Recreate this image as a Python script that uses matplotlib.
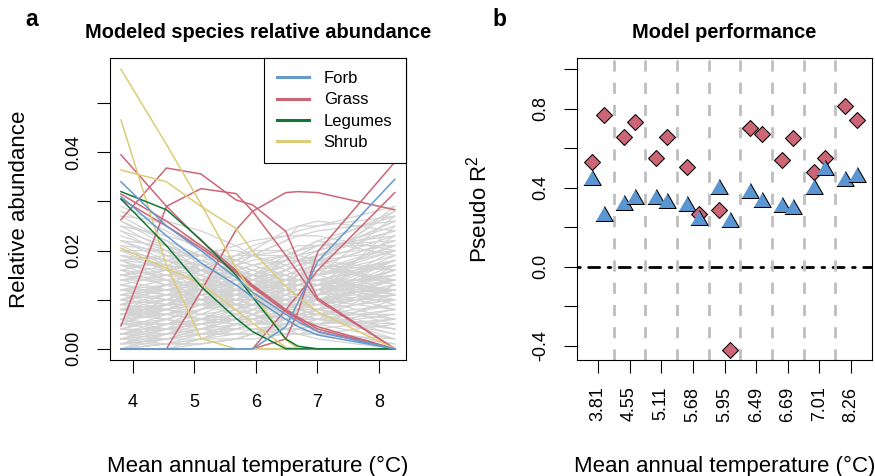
import matplotlib
matplotlib.use("Agg")
import matplotlib.pyplot as plt
import numpy as np
from matplotlib.axes import Axes
from matplotlib.lines import Line2D

plt.rcParams['font.family'] = ['Liberation Sans', 'DejaVu Sans']
plt.rcParams['mathtext.fontset'] = 'custom'
plt.rcParams['mathtext.rm'] = 'Liberation Sans'
plt.rcParams['mathtext.it'] = 'Liberation Sans:italic'

# mean annual temperature of the sites
temps = [3.81, 4.55, 5.11, 5.68, 5.95, 6.49, 6.69, 7.01, 8.26]
temp_labels = ["3.81", "4.55", "5.11", "5.68", "5.95", "6.49", "6.69", "7.01", "8.26"]

# modeled relative abundance (x 1000), one row per species
forb = [
    [34, 25, 20, 14.5, 11.5, 7, 5.5, 3.5, 0],
    [31, 23, 17.5, 13, 10.5, 6, 4.5, 2.8, 0],
    [0, 0, 0, 0, 0, 4.5, 9.5, 17.8, 34.5],
]
grass = [
    [39.5, 29, 22, 16, 13, 8, 6.5, 4, 0],
    [30.5, 25, 20.5, 15.5, 12.5, 7.5, 6, 3.5, 0],
    [31.5, 26, 21, 15.8, 12.8, 7.8, 6.2, 4.5, 0],
    [26.3, 36.8, 35.6, 30.3, 29.3, 23.9, 18, 10.3, 0],
    [4.6, 29, 32.6, 31.6, 28, 19, 15.5, 9.9, 0],
    [0, 0, 11.7, 24.2, 28, 31.8, 32, 31.8, 28.3],
    [0, 0, 0, 0, 0, 2, 7.6, 19.8, 38],
    [0, 0, 0, 0, 0, 8, 11, 16, 31.8],
]
legumes = [
    [32, 28.3, 22.2, 15, 10.5, 2, 0.5, 0, 0],
    [30.5, 21, 12.7, 6.2, 3.5, 0, 0, 0, 0],
]
shrub = [
    [56.9, 41.6, 29.5, 16.5, 11.5, 1.8, 0, 0, 0],
    [46.6, 17, 2.1, 0, 0, 0, 0, 0, 0],
    [36.4, 34, 29, 24.5, 19.8, 12.7, 10.5, 7.5, 0],
    [20.5, 16.4, 13.3, 7.9, 5.2, 0.3, 0, 0, 0],
]
other = [
    [20, 18, 15, 12, 11, 9, 8, 7, 4],
    [15, 16, 17, 16, 15, 14, 14, 13, 12],
    [0, 3, 6, 9, 11, 14, 15, 17, 22],
    [25, 20, 14, 9, 7, 4, 3, 2, 0],
    [10, 12, 13, 15, 16, 18, 19, 20, 25],
    [5, 8, 11, 14, 15, 17, 18, 18, 16],
    [18, 14, 10, 8, 7, 6, 6, 6, 8],
    [12, 10, 9, 10, 11, 13, 14, 15, 19],
    [0, 0, 2, 5, 7, 11, 13, 15, 27],
    [28, 24, 20, 16, 14, 11, 10, 9, 5],
    [8, 7, 6, 6, 6, 7, 8, 9, 14],
    [22, 19, 17, 14, 13, 11, 10, 10, 10],
    [3, 6, 9, 12, 14, 16, 17, 18, 20],
    [14, 15, 16, 16, 15, 12, 11, 10, 6],
    [6, 10, 13, 17, 19, 22, 23, 24, 26],
    [17, 17, 16, 14, 13, 10, 9, 8, 4],
    [1, 2, 4, 6, 8, 12, 14, 17, 29],
    [11, 9, 7, 6, 5, 5, 5, 6, 9],
    [24, 21, 18, 15, 14, 12, 11, 11, 12],
    [4, 4, 5, 7, 8, 10, 11, 12, 18],
    [9, 13, 16, 19, 20, 20, 19, 18, 13],
    [19, 16, 13, 11, 10, 9, 9, 9, 11],
    [2, 5, 7, 10, 11, 13, 14, 15, 17],
    [13, 11, 9, 7, 6, 4, 4, 3, 1],
    [7, 9, 12, 14, 15, 18, 19, 21, 28],
    [16, 18, 20, 20, 19, 17, 16, 15, 11],
    [0, 1, 3, 5, 6, 9, 10, 12, 20],
    [21, 17, 13, 10, 9, 7, 6, 6, 5],
    [10, 11, 11, 12, 13, 15, 16, 17, 22],
    [5, 6, 8, 10, 12, 16, 18, 20, 24],
    [26, 22, 19, 15, 13, 10, 8, 7, 2],
    [12, 14, 15, 17, 18, 19, 20, 21, 23],
    [8, 8, 9, 10, 10, 11, 11, 12, 15],
    [15, 13, 12, 11, 11, 12, 13, 14, 18],
    [3, 3, 4, 4, 5, 6, 7, 8, 12],
    [20, 20, 19, 17, 16, 14, 13, 12, 8],
    [1, 4, 8, 12, 14, 18, 20, 22, 19],
    [18, 15, 11, 8, 7, 5, 5, 5, 6],
    [9, 8, 7, 8, 9, 12, 13, 15, 21],
    [6, 7, 9, 11, 12, 14, 15, 16, 14],
    [23, 20, 16, 13, 12, 9, 8, 7, 3],
    [14, 12, 10, 9, 9, 10, 11, 12, 16],
    [0, 0, 1, 2, 3, 6, 8, 11, 25],
    [11, 13, 14, 15, 15, 15, 14, 14, 11],
    [17, 14, 12, 10, 9, 8, 8, 8, 10],
    [4, 7, 10, 13, 14, 17, 18, 19, 21],
    [27, 22, 17, 13, 11, 8, 7, 6, 4],
    [7, 6, 5, 4, 4, 4, 4, 5, 7],
    [13, 15, 17, 18, 19, 20, 21, 21, 22],
    [2, 3, 4, 6, 7, 10, 11, 13, 23],
    [19, 18, 17, 15, 14, 12, 11, 11, 12],
    [10, 9, 9, 9, 9, 9, 9, 10, 13],
    [16, 13, 10, 7, 6, 4, 3, 3, 2],
    [5, 9, 13, 16, 17, 18, 18, 17, 13],
    [8, 10, 12, 13, 14, 16, 17, 19, 26],
    [22, 18, 15, 12, 11, 10, 10, 11, 15],
    [12, 12, 11, 11, 10, 9, 9, 8, 6],
    [1, 2, 3, 4, 5, 7, 8, 10, 16],
    [15, 17, 19, 21, 22, 23, 23, 23, 20],
    [6, 5, 5, 6, 7, 9, 10, 12, 19],
    [20, 16, 12, 9, 8, 6, 5, 4, 1],
    [9, 11, 12, 14, 15, 17, 18, 19, 24],
    [3, 5, 6, 8, 9, 11, 12, 13, 15],
    [18, 19, 19, 18, 17, 15, 14, 13, 9],
    [11, 10, 10, 11, 12, 14, 15, 16, 20],
    [0, 2, 4, 7, 9, 13, 15, 18, 28],
    [24, 19, 15, 12, 10, 8, 7, 7, 7],
    [7, 8, 10, 11, 12, 13, 13, 13, 12],
    [14, 14, 13, 13, 13, 14, 15, 16, 21],
    [2, 1, 1, 2, 2, 3, 4, 5, 10],
    [8, 11, 14, 18, 20, 24, 25, 25, 27],
    [5, 9, 13, 17, 19, 22, 25, 26, 24],
    [10, 13, 16, 19, 21, 23, 24, 25, 29],
    [0, 0, 0, 0, 0, 0, 0, 0, 0],
    [4, 3, 3, 3, 4, 5, 6, 7, 11],
    [1, 1, 2, 3, 3, 5, 6, 7, 9],
    [6, 4, 3, 3, 3, 4, 4, 5, 8],
    [29, 25, 21, 17, 15, 12, 11, 10, 8],
    [27, 26, 24, 21, 19, 16, 15, 14, 11],
    [3, 2, 2, 2, 3, 4, 5, 6, 13],
    [12, 13, 13, 14, 14, 14, 14, 14, 14],
    [9, 7, 6, 5, 5, 6, 7, 8, 12],
    [16, 15, 14, 13, 13, 13, 13, 14, 17],
    [2, 4, 6, 9, 10, 12, 13, 14, 12],
    [7, 9, 11, 12, 13, 14, 15, 15, 18],
    [21, 20, 18, 16, 15, 13, 12, 12, 14],
    [5, 5, 6, 7, 8, 9, 10, 11, 17],
    [0, 1, 2, 4, 5, 8, 9, 11, 18],
    [18, 17, 16, 15, 14, 13, 13, 13, 15],
    [10, 8, 6, 5, 4, 3, 3, 3, 5],
    [13, 12, 12, 12, 12, 13, 14, 15, 20],
    [4, 6, 8, 11, 13, 15, 16, 17, 16],
    [25, 23, 21, 18, 17, 15, 14, 13, 10],
    [8, 9, 10, 12, 13, 16, 17, 18, 23],
    [11, 12, 13, 13, 13, 12, 12, 12, 12],
    [2, 2, 3, 5, 6, 8, 9, 10, 14],
    [15, 14, 13, 12, 11, 10, 10, 10, 13],
    [6, 8, 10, 13, 15, 19, 20, 22, 27],
    [19, 17, 14, 11, 10, 8, 7, 6, 3],
    [3, 4, 5, 6, 6, 7, 7, 8, 10],
    [14, 16, 18, 19, 19, 19, 18, 17, 14],
    [1, 3, 5, 8, 10, 14, 16, 19, 26],
    [22, 21, 19, 17, 16, 14, 14, 14, 17],
    [9, 10, 10, 10, 10, 10, 10, 11, 14],
    [5, 4, 4, 5, 6, 8, 9, 11, 16],
    [17, 16, 14, 12, 11, 9, 9, 9, 12],
    [12, 11, 10, 10, 10, 11, 12, 13, 18],
    [0, 1, 1, 2, 3, 5, 6, 8, 17],
    [7, 7, 8, 9, 9, 10, 10, 10, 11],
    [26, 21, 16, 12, 10, 7, 6, 5, 2],
    [10, 12, 14, 16, 17, 19, 20, 21, 21],
    [3, 5, 8, 11, 12, 14, 14, 14, 11],
    [20, 18, 16, 13, 12, 10, 10, 10, 12],
    [8, 6, 4, 3, 3, 3, 3, 4, 6],
]

# pseudo R2, two plots per temperature (left, right)
r2_diamond = [
    [0.533, 0.768], [0.658, 0.733], [0.553, 0.655], [0.503, 0.266], [0.286, -0.418],
    [0.702, 0.675], [0.540, 0.652], [0.482, 0.550], [0.814, 0.743],
]
r2_triangle = [
    [0.440, 0.260], [0.313, 0.342], [0.342, 0.322], [0.310, 0.237], [0.394, 0.225],
    [0.374, 0.327], [0.305, 0.293], [0.394, 0.491], [0.437, 0.457],
]

colors = {"Forb": "#6699CC", "Grass": "#CC6677", "Legumes": "#117733", "Shrub": "#DDCC77"}

W, H = 875, 476
fig = plt.figure(figsize=(W / 100, H / 100), dpi=100)

def px_axes(x0, x1, y0, y1):
    return fig.add_axes([x0 / W, 1 - y1 / H, (x1 - x0) / W, (y1 - y0) / H])

def style(ax: Axes):
    for s in ax.spines.values():
        s.set_linewidth(0.8)
    ax.tick_params(direction="out", length=9.6, width=0.8, labelsize=13)

def abundance_graph(ax: Axes):
    style(ax)
    x = np.array(temps)
    for row in other:
        ax.plot(x, np.array(row) / 1000, color="#D3D3D3", lw=0.9)
    for name, group in [("Grass", grass), ("Shrub", shrub), ("Legumes", legumes), ("Forb", forb)]:
        for row in group:
            ax.plot(x, np.array(row) / 1000, color=colors[name], lw=1.1)

    ax.set_xlim(3.632, 8.438)
    ax.set_ylim(-0.00228, 0.0592)
    ax.set_xticks([4, 5, 6, 7, 8])
    ax.set_yticks(np.arange(6) / 100)
    ax.set_yticklabels(["0.00", "", "0.02", "", "0.04", ""])
    ax.tick_params(axis="x", pad=15)
    ax.tick_params(axis="y", pad=10.5)
    for t in ax.get_yticklabels():
        t.set_rotation(90)
        t.set_va("center")

    handles = [Line2D([], [], color=c, lw=2.2) for c in colors.values()]
    leg = ax.legend(handles, list(colors.keys()), loc="upper right", borderaxespad=0,
                    fancybox=False, framealpha=1, edgecolor="black", fontsize=12,
                    handlelength=1.9, handletextpad=0.9, borderpad=0.8, labelspacing=0.37)
    leg.get_frame().set_linewidth(0.8)

def performance_graph(ax: Axes):
    style(ax)
    idx = np.arange(1, len(temps) + 1)
    for v in idx[:-1] + 0.5:
        ax.axvline(v, color="#BEBEBE", lw=2, ls=(0, (4, 4)), zorder=2)
    ax.axhline(0, color="black", lw=2, ls=(0, (1, 3, 4, 3)), dash_capstyle="round", zorder=1)

    tri = [(-1, -0.577), (1, -0.577), (0, 1.155)]
    d = np.array(r2_diamond)
    t = np.array(r2_triangle)
    for k, off in enumerate([-0.18, 0.18]):
        ax.plot(idx + off, d[:, k], ls="none", marker="D", ms=8.0, mfc="#CC6677",
                mec="black", mew=0.75, zorder=3)
        ax.plot(idx + off, t[:, k], ls="none", marker=tri, ms=14.4, mfc="#5A96D2",
                mec="black", mew=0.75, zorder=3)

    ax.set_xlim(0.33, 9.67)
    ax.set_ylim(-0.471, 1.057)
    ax.set_xticks(idx)
    ax.set_xticklabels(temp_labels, rotation=90, va="top", ha="center")
    yt = [-0.4, -0.2, 0.0, 0.2, 0.4, 0.6, 0.8, 1.0]
    ax.set_yticks(yt)
    ax.set_yticklabels(["-0.4", "", "0.0", "", "0.4", "", "0.8", ""])
    ax.tick_params(axis="x", pad=9.5)
    ax.tick_params(axis="y", pad=10.5)
    for lbl in ax.get_yticklabels():
        lbl.set_rotation(90)
        lbl.set_va("center")

ax_a = px_axes(110, 405.7, 58, 360)
ax_b = px_axes(576.7, 872.3, 58, 360)
abundance_graph(ax_a)
performance_graph(ax_b)

def ftext(x, y, s, **kw):
    fig.text(x / W, 1 - y / H, s, ha="center", va="center", **kw)

ftext(31.7, 19, "a", fontsize=16.5, fontweight="bold")
ftext(499.3, 19, "b", fontsize=16.5, fontweight="bold")
ftext(257.9, 33, "Modeled species relative abundance", fontsize=14.4, fontweight="bold")
ftext(724.5, 33, "Model performance", fontsize=14.4, fontweight="bold")
ftext(20, 209, "Relative abundance", fontsize=16, rotation=90)
ftext(479, 209, "Pseudo R$^2$", fontsize=16, rotation=90)
ftext(257.9, 466, "Mean annual temperature (°C)", fontsize=16)
ftext(724.5, 466, "Mean annual temperature (°C)", fontsize=16)

fig.savefig("out.png", dpi=100)
